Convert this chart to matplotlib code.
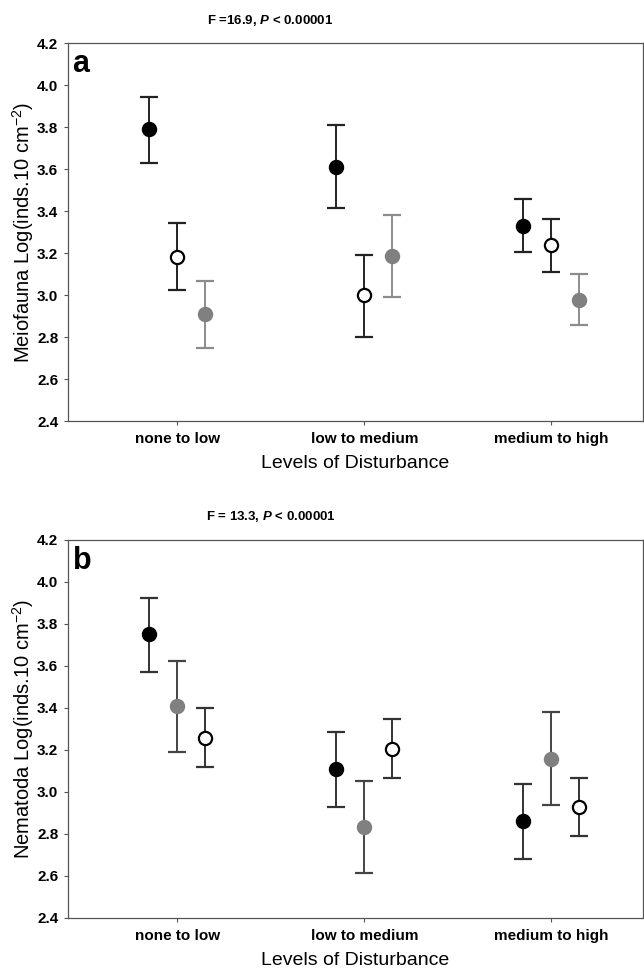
import numpy as np
import matplotlib
matplotlib.use("Agg")
import matplotlib.pyplot as plt

plt.rcParams['font.family'] = ['Liberation Sans', 'DejaVu Sans']
plt.rcParams['mathtext.fontset'] = 'custom'
plt.rcParams['mathtext.rm'] = 'Liberation Sans:bold'
plt.rcParams['mathtext.bf'] = 'Liberation Sans:bold'
plt.rcParams['mathtext.it'] = 'Liberation Sans:bold:italic'

# Categories
levels = ["none to low", "low to medium", "medium to high"]

# Panel a: Meiofauna (mean, upper, lower) per series
a_black = [3.79, 3.61, 3.33]
a_black_hi = [3.945, 3.81, 3.455]
a_black_lo = [3.63, 3.415, 3.205]
a_open = [3.18, 3.00, 3.24]
a_open_hi = [3.345, 3.19, 3.362]
a_open_lo = [3.024, 2.80, 3.11]
a_gray = [2.91, 3.186, 2.977]
a_gray_hi = [3.067, 3.381, 3.10]
a_gray_lo = [2.748, 2.99, 2.857]

# Panel b: Nematoda
b_black = [3.75, 3.11, 2.86]
b_black_hi = [3.924, 3.286, 3.038]
b_black_lo = [3.571, 2.929, 2.681]
b_gray = [3.41, 2.833, 3.157]
b_gray_hi = [3.624, 3.052, 3.381]
b_gray_lo = [3.19, 2.614, 2.938]
b_open = [3.257, 3.205, 2.929]
b_open_hi = [3.40, 3.348, 3.067]
b_open_lo = [3.119, 3.067, 2.79]

fig = plt.figure(figsize=(6.44, 9.71), dpi=100)
ax_a = fig.add_axes([0.1056, 0.5664, 0.893, 0.3893])
ax_b = fig.add_axes([0.1056, 0.0546, 0.893, 0.3893])

x = np.arange(len(levels))
off = 0.15


def draw(ax, xpos, mean, hi, lo, face, ecol, mcol):
    mean = np.array(mean)
    yerr = [mean - np.array(lo), np.array(hi) - mean]
    ax.errorbar(xpos, mean, yerr=yerr, fmt='o', ms=9.5, mfc=face, mec=mcol,
                mew=1.6, ecolor=ecol, elinewidth=1.4, capsize=6.8, capthick=1.4,
                zorder=3)


def style(ax, ylabel, letter):
    ax.set_xlim(-0.583, 2.49)
    ax.set_ylim(2.4, 4.2)
    yt = np.arange(2.4, 4.21, 0.2)
    ax.set_yticks(yt)
    ax.set_yticklabels([f"{v:.1f}" for v in yt], fontweight='bold')
    ax.set_xticks(x)
    ax.set_xticklabels(levels, fontweight='bold')
    ax.tick_params(axis='both', labelsize=11, length=3, width=0.8, color='#555555')
    ax.tick_params(axis='x', pad=5)
    ax.tick_params(axis='y', pad=4)
    for sp in ax.spines.values():
        sp.set_color('#555555')
        sp.set_linewidth(0.9)
    ax.set_ylabel(ylabel, fontsize=14.5)
    ax.yaxis.set_label_coords(-0.079, 0.5)
    ax.yaxis.label.set_va('center')
    ax.set_xlabel("Levels of Disturbance", fontsize=14)
    ax.xaxis.set_label_coords(0.5, -0.112)
    ax.xaxis.label.set_va('center')
    ax.text(0.008, 0.985, letter, transform=ax.transAxes, fontsize=22,
            fontweight='bold', va='top', ha='left')


draw(ax_a, x - off, a_black, a_black_hi, a_black_lo, 'black', '#222222', 'black')
draw(ax_a, x, a_open, a_open_hi, a_open_lo, 'white', '#222222', 'black')
draw(ax_a, x + off, a_gray, a_gray_hi, a_gray_lo, '#808080', '#8c8c8c', '#808080')
style(ax_a, r"Meiofauna Log(inds.10 cm$^{\mathregular{-2}}$)", "a")

draw(ax_b, x - off, b_black, b_black_hi, b_black_lo, 'black', '#333333', 'black')
draw(ax_b, x, b_gray, b_gray_hi, b_gray_lo, '#808080', '#444444', '#808080')
draw(ax_b, x + off, b_open, b_open_hi, b_open_lo, 'white', '#333333', 'black')
style(ax_b, r"Nematoda Log(inds.10 cm$^{\mathregular{-2}}$)", "b")

fig.text(0.42, 0.979, r"F =16.9, $\mathit{P}$ < 0.00001", ha='center', va='center',
         fontsize=9.5, fontweight='bold')
fig.text(0.42, 0.468, r"F = 13.3, $\mathit{P}$ < 0.00001", ha='center', va='center',
         fontsize=9.5, fontweight='bold')

fig.savefig("out.png", dpi=100)
